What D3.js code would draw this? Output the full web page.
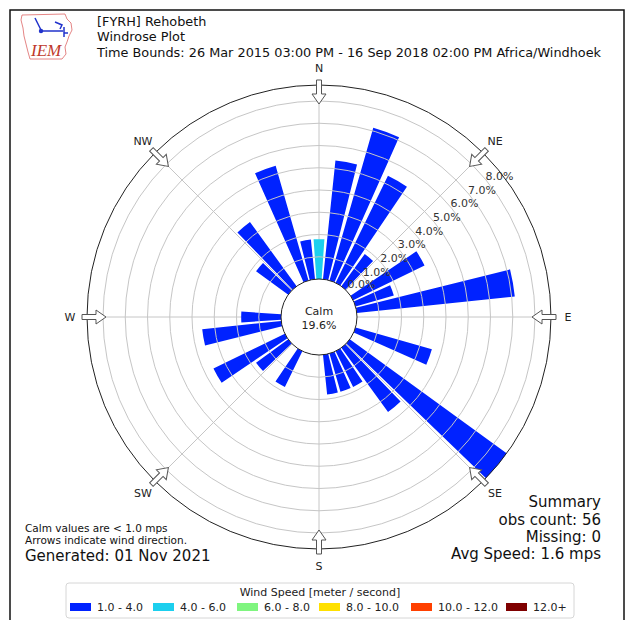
<!DOCTYPE html>
<html>
<head>
<meta charset="utf-8">
<script src="https://cdn.jsdelivr.net/npm/d3@7"></script>
<style>
body { margin: 0; background: #fff; }
text { font-family: "DejaVu Sans", sans-serif; }
</style>
</head>
<body>
<script>
var directions = [0,10,20,30,40,50,60,70,80,90,100,110,120,130,140,150,160,170,
                  180,190,200,210,220,230,240,250,260,270,280,290,300,310,320,330,340,350];
var bin1to4 = [0,5.36,7.14,5.36,1.79,0,3.57,1.79,7.14,0,0,3.57,0,8.93,3.57,1.79,1.79,1.79,
               0,0,0,1.79,0,1.79,3.57,0,3.57,1.79,0,0,0,1.79,3.57,0,5.36,1.79];
var bin4to6 = [1.79,0,0,0,0,0,0,0,0,0,0,0,0,0,0,0,0,0,
               0,0,0,0,0,0,0,0,0,0,0,0,0,0,0,0,0,0];
var binLabels = ["1.0 - 4.0","4.0 - 6.0","6.0 - 8.0","8.0 - 10.0","10.0 - 12.0","12.0+"];
var binColors = ["#0022ff","#1ccfee","#7ff57f","#ffe000","#ff4000","#7f0000"];
var ringTicks = [0,1,2,3,4,5,6,7,8];
var compass = ["N","NE","E","SE","S","SW","W","NW"];
var calmPct = "19.6%";

var w = 632, h = 620;
var cx = 319, cy = 317, R = 232, calmR = 38;

var svg = d3.select("body").append("svg")
    .attr("width", w).attr("height", h);

// frame
svg.append("rect").attr("x", 10).attr("y", 10).attr("width", 614).attr("height", 640)
    .attr("fill", "none").attr("stroke", "#111").attr("stroke-width", 1.5);

// logo
var logo = svg.append("g");
logo.append("path")
    .attr("d", "M22,15 L65,14 L67,19 L71,23 L72,30 L69,36 L67,42 L65,47 L66,54 L62,59 L30,59 L28,52 L26,44 L24,36 L23,28 L21,20 Z")
    .attr("fill", "none").attr("stroke", "#d66").attr("stroke-width", 0.8);
logo.append("path").attr("d", "M35,18 L38,24 L41,30 M41,31 L63,31 M55,22 L62,25 L60,29 M64,27 L64,37 M64,33 L68,33")
    .attr("fill", "none").attr("stroke", "#2233cc").attr("stroke-width", 1.5);
logo.append("circle").attr("cx", 41).attr("cy", 31).attr("r", 2.2).attr("fill", "#2233cc");
logo.append("text").attr("x", 31).attr("y", 56).text("IEM")
    .attr("font-style", "italic")
    .attr("font-size", 17).attr("fill", "#c0392b").style("font-family", "Liberation Serif, serif");

// title
var titles = ["[FYRH] Rehobeth", "Windrose Plot",
    "Time Bounds: 26 Mar 2015 03:00 PM - 16 Sep 2018 02:00 PM Africa/Windhoek"];
svg.selectAll("text.title").data(titles).enter().append("text")
    .attr("class", "title")
    .attr("x", 97)
    .attr("y", function(d, i) { return 21.5 + i * 15.5; })
    .attr("dy", "0.35em")
    .attr("font-size", 12.85)
    .attr("fill", "#111")
    .text(function(d) { return d; });

var rScale = d3.scaleLinear().domain([0, 8]).range([calmR, calmR + 8 * 22.25]);

var g = svg.append("g").attr("transform", "translate(" + cx + "," + cy + ")");

g.append("clipPath").attr("id", "clip").append("circle").attr("r", R);

// stacked bars
var rows = directions.map(function(d, i) {
    return { dir: d, b0: bin1to4[i], b1: bin4to6[i] };
});
var stack = d3.stack().keys(["b0", "b1"])(rows);
var arc = d3.arc();
var toRad = Math.PI / 180;

// spokes under the bars (they show in the gaps)
g.selectAll("line.spoke").data(d3.range(8)).enter().append("line")
    .attr("class", "spoke")
    .attr("x1", function(d) { return calmR * Math.sin(d * 45 * toRad); })
    .attr("y1", function(d) { return -calmR * Math.cos(d * 45 * toRad); })
    .attr("x2", function(d) { return R * Math.sin(d * 45 * toRad); })
    .attr("y2", function(d) { return -R * Math.cos(d * 45 * toRad); })
    .attr("stroke", "#c6c6c6").attr("stroke-width", 1);

g.append("g").attr("clip-path", "url(#clip)")
  .selectAll("g").data(stack).enter().append("g")
    .attr("fill", function(d, i) { return binColors[i]; })
  .selectAll("path").data(function(d) { return d.filter(function(s) { return s[1] - s[0] > 0; }); })
  .enter().append("path")
    .attr("d", function(s) {
        return arc({
            innerRadius: rScale(s[0]),
            outerRadius: Math.min(R + 2, rScale(s[1])),
            startAngle: (s.data.dir - 4) * toRad,
            endAngle: (s.data.dir + 4) * toRad
        });
    });

// rings on top
g.selectAll("circle.ring").data(ringTicks.slice(1)).enter().append("circle")
    .attr("class", "ring")
    .attr("r", function(d) { return rScale(d); })
    .attr("fill", "none").attr("stroke", "#c6c6c6").attr("stroke-width", 1);

// outer circle
g.append("circle").attr("r", R).attr("fill", "none").attr("stroke", "#222").attr("stroke-width", 1);

// ring labels
var labAng = 52 * toRad;
g.selectAll("text.rlab").data(ringTicks).enter().append("text")
    .attr("class", "rlab")
    .attr("x", function(d) { return (rScale(d) + (d === 0 ? 16 : 13)) * Math.sin(labAng); })
    .attr("y", function(d) { return -(rScale(d) + (d === 0 ? 16 : 13)) * Math.cos(labAng); })
    .attr("dy", "0.35em")
    .attr("text-anchor", "middle")
    .attr("font-size", 11)
    .attr("fill", "#333")
    .text(function(d) { return d.toFixed(1) + "%"; });

// calm circle
g.append("circle").attr("r", calmR).attr("fill", "#fff").attr("stroke", "#222").attr("stroke-width", 1);
g.append("text").attr("y", -6).attr("dy", "0.35em").attr("text-anchor", "middle")
    .attr("font-size", 11).attr("fill", "#222").text("Calm");
g.append("text").attr("y", 8).attr("dy", "0.35em").attr("text-anchor", "middle")
    .attr("font-size", 11).attr("fill", "#222").text(calmPct);

// arrows and compass labels
var arrowPts = [[-2.5,-237],[2.5,-237],[2.5,-223],[7,-223],[0,-213],[-7,-223],[-2.5,-223]];
g.selectAll("polygon.arrow").data(compass).enter().append("polygon")
    .attr("class", "arrow")
    .attr("points", arrowPts.map(function(p) { return p.join(","); }).join(" "))
    .attr("transform", function(d, i) { return "rotate(" + (i * 45) + ")"; })
    .attr("fill", "#fff").attr("stroke", "#555").attr("stroke-width", 1);

g.selectAll("text.cmp").data(compass).enter().append("text")
    .attr("class", "cmp")
    .attr("x", function(d, i) { return 249 * Math.sin(i * 45 * toRad); })
    .attr("y", function(d, i) { return -249 * Math.cos(i * 45 * toRad); })
    .attr("dy", "0.35em")
    .attr("text-anchor", "middle")
    .attr("font-size", 11)
    .attr("fill", "#222")
    .text(function(d) { return d; });

// bottom-left notes
svg.append("text").attr("x", 25).attr("y", 528).attr("dy", "0.35em").attr("font-size", 10.5)
    .attr("fill", "#111").text("Calm values are < 1.0 mps");
svg.append("text").attr("x", 25).attr("y", 540.5).attr("dy", "0.35em").attr("font-size", 10.5)
    .attr("fill", "#111").text("Arrows indicate wind direction.");
svg.append("text").attr("x", 25).attr("y", 556).attr("dy", "0.35em").attr("font-size", 15)
    .attr("fill", "#111").text("Generated: 01 Nov 2021");

// summary
var summary = ["Summary", "obs count: 56", "Missing: 0", "Avg Speed: 1.6 mps"];
svg.selectAll("text.sum").data(summary).enter().append("text")
    .attr("class", "sum")
    .attr("x", 601)
    .attr("y", function(d, i) { return 502 + i * 17.3; })
    .attr("dy", "0.35em")
    .attr("text-anchor", "end")
    .attr("font-size", 15)
    .attr("fill", "#111")
    .text(function(d) { return d; });

// legend
var leg = svg.append("g");
leg.append("rect").attr("x", 66).attr("y", 583).attr("width", 508).attr("height", 35).attr("rx", 3)
    .attr("fill", "#fff").attr("stroke", "#d6d6d6");
leg.append("text").attr("x", 320).attr("y", 592).attr("dy", "0.35em").attr("text-anchor", "middle")
    .attr("font-size", 11).attr("fill", "#222").text("Wind Speed [meter / second]");
var legX = [70, 153, 237, 319, 411, 506];
var item = leg.selectAll("g.item").data(binLabels).enter().append("g")
    .attr("class", "item")
    .attr("transform", function(d, i) { return "translate(" + legX[i] + ",607)"; });
item.append("rect").attr("x", 0).attr("y", -4).attr("width", 21).attr("height", 8)
    .attr("fill", function(d, i) { return binColors[i]; });
item.append("text").attr("x", 27).attr("dy", "0.35em").attr("font-size", 11).attr("fill", "#222")
    .text(function(d) { return d; });
</script>
</body>
</html>
